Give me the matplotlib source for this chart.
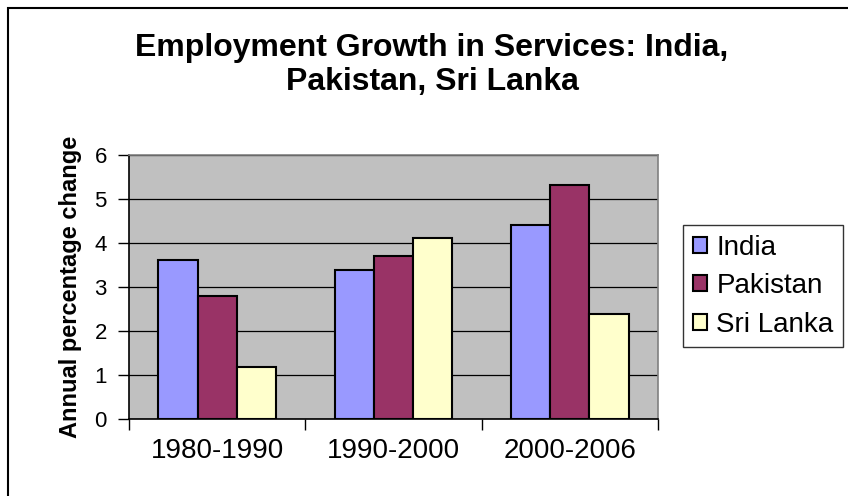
import matplotlib.pyplot as plt
from matplotlib.patches import Patch, Rectangle
import numpy as np

plt.rcParams['font.family'] = ['Liberation Sans', 'DejaVu Sans']

periods = ['1980-1990', '1990-2000', '2000-2006']
countries = ['India', 'Pakistan', 'Sri Lanka']
india = [3.62, 3.38, 4.40]
pakistan = [2.79, 3.70, 5.31]
sri_lanka = [1.18, 4.12, 2.38]
colors = ['#9999FF', '#993366', '#FFFFCC']

W, H = 848, 496
fig = plt.figure(figsize=(W / 100, H / 100), dpi=100)
ax = fig.add_axes([129 / W, 1 - 419 / H, (658 - 129) / W, (419 - 155) / H])
ax.set_facecolor('#C0C0C0')

x = np.arange(len(periods)) + 0.5
bw = 0.222
for k, (vals, col) in enumerate(zip([india, pakistan, sri_lanka], colors)):
    ax.bar(x + (k - 1) * bw, vals, width=bw, color=col,
           edgecolor='black', linewidth=1.5, zorder=3)

ax.set_xlim(0, 3)
ax.set_ylim(0, 6)
ax.set_yticks(range(7))
ax.yaxis.grid(True, color='black', linewidth=0.9, zorder=1)
ax.set_axisbelow(True)

# category labels centred, tick marks on the category boundaries
ax.set_xticks(x)
ax.set_xticklabels(periods, fontsize=20)
ax.tick_params(axis='x', length=0, pad=14)
ax.set_xticks(np.arange(4), minor=True)
ax.tick_params(axis='x', which='minor', length=8, width=1, color='black')
ax.tick_params(axis='y', labelsize=16, length=8, width=1, pad=8)

for s in ['top', 'right']:
    ax.spines[s].set_color('#808080')
    ax.spines[s].set_linewidth(1.2)
for s in ['left', 'bottom']:
    ax.spines[s].set_color('black')
    ax.spines[s].set_linewidth(1.2)

ax.set_ylabel('Annual percentage change', fontsize=17, fontweight='bold',
              labelpad=9)

fig.text(432 / W, 1 - 65 / H,
         'Employment Growth in Services: India,\nPakistan, Sri Lanka',
         ha='center', va='center', fontsize=23, fontweight='bold',
         linespacing=1.2)

handles = [Patch(facecolor=c, edgecolor='black', linewidth=1.5) for c in colors]
leg = fig.legend(handles, countries, loc='upper left',
                 bbox_to_anchor=(683 / W, 1 - 225 / H), fontsize=20,
                 frameon=True, fancybox=False, edgecolor='black',
                 handlelength=0.5, handleheight=0.5, handletextpad=0.35,
                 labelspacing=0.45, borderpad=0.35, borderaxespad=0)
leg.get_frame().set_linewidth(1)

# outer chart border (cropped on right and bottom)
fig.patches.append(Rectangle((8 / W, -0.1), 1.2, 1 - 8 / H + 0.1,
                             transform=fig.transFigure, fill=False,
                             edgecolor='black', linewidth=1.5))

fig.savefig('out.png', dpi=100)
